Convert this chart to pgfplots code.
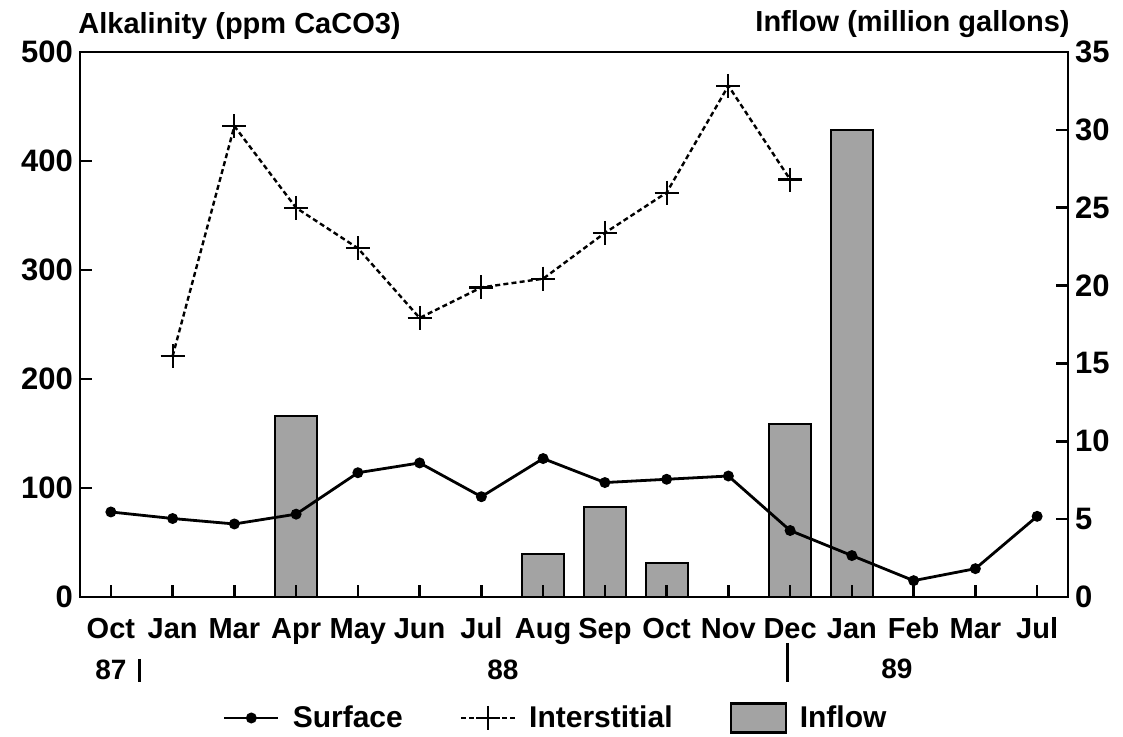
\documentclass[border=0pt]{standalone}
\usepackage{pgfplots}
\pgfplotsset{compat=1.18}
\usepackage{fontspec}
\setmainfont{Liberation Sans}
\pgfplotsset{
  mylineleg/.style={legend image code/.code={\draw[##1, mark repeat=2, mark phase=2] plot coordinates {(0pt,0pt) (13.5pt,0pt) (27pt,0pt)};}},
  myboxleg/.style={legend image code/.code={\draw[##1] (0pt,-7.25pt) rectangle (27.5pt,7.25pt);}},
  common/.style={
    scale only axis, width=494pt, height=272.5pt,
    xmin=-0.5, xmax=15.5,
    axis line style={line width=1.3pt},
    tick style={line width=1.3pt, black},
    major tick length=6pt,
    tick align=inside,
    /pgf/number format/assume math mode=true,
    ticklabel style={font=\fontsize{15.5}{18}\selectfont\bfseries},
  }
}
\begin{document}
\begin{tikzpicture}[font=\fontsize{14.5}{17}\selectfont\bfseries]
% Inflow bars (right axis)
\begin{axis}[common,
  ymin=0, ymax=35, ytick={0,5,...,35},
  yticklabel pos=right, ytick pos=right,
  xtick=\empty,
]
\addplot[ybar, bar width=0.68, fill=black!36, draw=black, line width=1.1pt] coordinates {
 (3,11.6) (7,2.75) (8,5.8) (9,2.2) (11,11.1) (12,30.0)
};
\end{axis}
% Alkalinity lines (left axis)
\begin{axis}[common,
  ymin=0, ymax=500, ytick={0,100,...,500},
  ytick pos=left,
  xtick={0,...,15}, xtick pos=bottom,
  xticklabels={Oct,Jan,Mar,Apr,May,Jun,Jul,Aug,Sep,Oct,Nov,Dec,Jan,Feb,Mar,Jul},
  xticklabel style={font=\fontsize{14.5}{17}\selectfont\bfseries, anchor=base, yshift=-20.5pt},
  clip=false,
  legend columns=3,
  legend style={at={(0.1447,-0.222)}, anchor=west, draw=none, fill=none,
    inner sep=0pt, outer sep=0pt,
    font=\fontsize{15}{18}\selectfont\bfseries,
    nodes={inner sep=1.5pt},
    /tikz/every odd column/.append style={column sep=5pt},
    /tikz/every even column/.append style={column sep=27pt}},
  legend cell align=left,
]
\addplot[black, line width=1.4pt, mark=*, mark size=2pt, mylineleg]
 coordinates {
 (0,78) (1,72) (2,67) (3,76) (4,114) (5,123) (6,92) (7,127) (8,105) (9,108) (10,111) (11,61) (12,38) (13,15) (14,26) (15,74)
};
\addlegendentry{Surface}
\addplot[black, line width=1.2pt, dash pattern=on 2.5pt off 1.6pt, mark=+, mark size=6pt,
  mark options={solid, line width=1.1pt}, mylineleg]
 coordinates {
 (1,221) (2,432) (3,357) (4,320) (5,256) (6,284) (7,292) (8,334) (9,371) (10,469) (11,383)
};
\addlegendentry{Interstitial}
\addlegendimage{fill=black!36, draw=black, line width=1.1pt, myboxleg}
\addlegendentry{Inflow}
\coordinate (ll) at (rel axis cs:0,0);
\coordinate (ur) at (rel axis cs:1,1);
% year annotations
\draw[line width=1.4pt] ([yshift=-31pt]axis cs:0.47,0) -- ([yshift=-42.5pt]axis cs:0.47,0);
\draw[line width=1.4pt] ([yshift=-23pt]axis cs:10.96,0) -- ([yshift=-42.5pt]axis cs:10.96,0);
\node[anchor=base, font=\fontsize{14}{17}\selectfont\bfseries] at ([yshift=-41.5pt]axis cs:0,0) {87};
\node[anchor=base, font=\fontsize{14}{17}\selectfont\bfseries] at ([yshift=-41.5pt]axis cs:6.35,0) {88};
\node[anchor=base, font=\fontsize{14}{17}\selectfont\bfseries] at ([yshift=-41pt]axis cs:12.73,0) {89};
\node[anchor=base west, inner sep=0pt] at ([xshift=-1pt,yshift=9pt]rel axis cs:0,1) {Alkalinity (ppm CaCO3)};
\node[anchor=base east, inner sep=0pt] at ([xshift=1pt,yshift=10pt]rel axis cs:1,1) {Inflow (million gallons)};
\end{axis}
\pgfresetboundingbox
\useasboundingbox ([xshift=-40pt,yshift=-70pt]ll) rectangle ([xshift=27.5pt,yshift=26pt]ur);
\end{tikzpicture}
\end{document}
